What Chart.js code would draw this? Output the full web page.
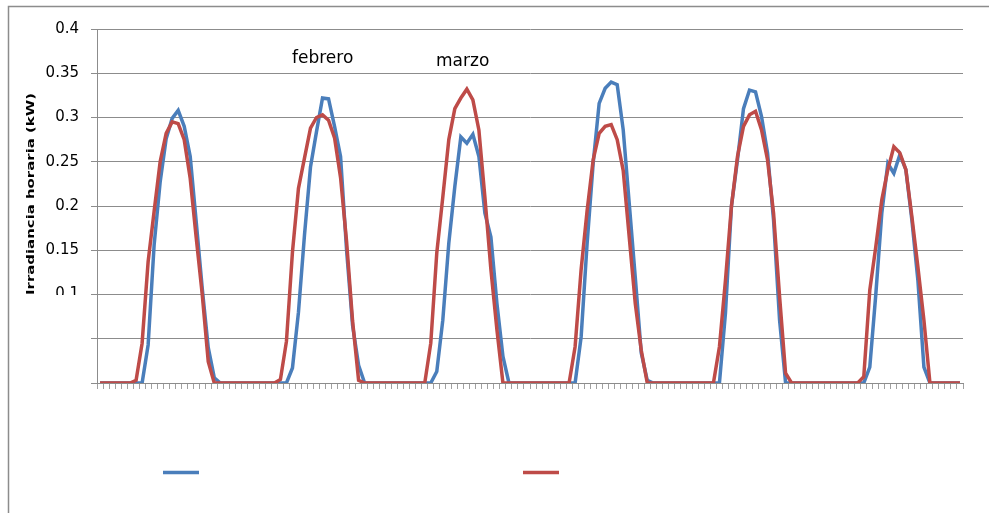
<!DOCTYPE html>
<html lang="es">
<head>
<meta charset="utf-8">
<title>Irradiancia horaria</title>
<script src="https://cdn.jsdelivr.net/npm/chart.js@4/dist/chart.umd.min.js"></script>
<style>
  html, body { margin: 0; padding: 0; background: #fff; }
  canvas { display: block; }
</style>
</head>
<body>
<canvas id="grafico" width="989" height="513"></canvas>
<script>
// un día típico por mes, 24 horas cada uno
const meses = ["enero", "febrero", "marzo", "abril", "mayo", "junio"];
const horas = Array.from({ length: 24 }, (_, h) => h);
const categorias = meses.flatMap((mes) => horas.map((h) => `${mes} ${h}h`));

// serie azul (kW)
const serieAzul = [
  0, 0, 0, 0, 0, 0, 0, 0, 0.043, 0.156, 0.227, 0.276, 0.299, 0.308, 0.29, 0.256, 0.182, 0.107, 0.04, 0.006, 0, 0, 0, 0,
  0, 0, 0, 0, 0, 0, 0, 0, 0.017, 0.08, 0.167, 0.244, 0.284, 0.322, 0.321, 0.29, 0.256, 0.15, 0.065, 0.02, 0, 0, 0, 0,
  0, 0, 0, 0, 0, 0, 0, 0, 0.013, 0.071, 0.158, 0.222, 0.278, 0.271, 0.281, 0.256, 0.192, 0.165, 0.09, 0.03, 0, 0, 0, 0,
  0, 0, 0, 0, 0, 0, 0, 0, 0.052, 0.158, 0.248, 0.316, 0.333, 0.34, 0.337, 0.286, 0.203, 0.12, 0.034, 0.003, 0, 0, 0, 0,
  0, 0, 0, 0, 0, 0, 0, 0, 0.079, 0.2, 0.252, 0.31, 0.331, 0.329, 0.301, 0.26, 0.184, 0.071, 0, 0, 0, 0, 0, 0,
  0, 0, 0, 0, 0, 0, 0, 0, 0.018, 0.1, 0.192, 0.248, 0.237, 0.258, 0.241, 0.184, 0.116, 0.018, 0, 0, 0, 0, 0, 0
];

// serie roja (kW)
const serieRoja = [
  0, 0, 0, 0, 0, 0, 0.003, 0.045, 0.137, 0.194, 0.25, 0.282, 0.295, 0.293, 0.275, 0.231, 0.164, 0.1, 0.024, 0, 0, 0, 0, 0,
  0, 0, 0, 0, 0, 0, 0.004, 0.047, 0.148, 0.22, 0.254, 0.288, 0.3, 0.303, 0.297, 0.277, 0.232, 0.16, 0.07, 0.003, 0, 0, 0, 0,
  0, 0, 0, 0, 0, 0, 0, 0.045, 0.147, 0.21, 0.275, 0.31, 0.322, 0.332, 0.32, 0.286, 0.21, 0.128, 0.06, 0, 0, 0, 0, 0,
  0, 0, 0, 0, 0, 0, 0, 0.041, 0.128, 0.195, 0.252, 0.282, 0.29, 0.292, 0.275, 0.24, 0.165, 0.09, 0.037, 0, 0, 0, 0, 0,
  0, 0, 0, 0, 0, 0, 0, 0.041, 0.116, 0.2, 0.256, 0.29, 0.303, 0.307, 0.286, 0.252, 0.192, 0.098, 0.011, 0, 0, 0, 0, 0,
  0, 0, 0, 0, 0, 0, 0, 0.007, 0.105, 0.154, 0.207, 0.241, 0.267, 0.26, 0.241, 0.188, 0.131, 0.071, 0, 0, 0, 0, 0, 0
];

const yMin = 0;
const yMax = 0.4;
const yPaso = 0.05;

const AZUL = "#4a7ebb";
const ROJO = "#be4b48";
const GRIS = "#8c8c8c";
const FUENTE = "'DejaVu Sans', sans-serif";

// marco, título del eje, rótulos de mes y leyenda sin texto
const extras = {
  id: "extras",
  afterDraw(chart) {
    const ctx = chart.ctx;
    ctx.save();

    ctx.strokeStyle = GRIS;
    ctx.lineWidth = 1.5;
    ctx.beginPath();
    ctx.moveTo(8.5, 513);
    ctx.lineTo(8.5, 6.5);
    ctx.lineTo(989, 6.5);
    ctx.stroke();

    // la etiqueta 0.1 queda tapada a medias
    ctx.fillStyle = "#fff";
    ctx.fillRect(38, 295, 50, 100);

    ctx.save();
    ctx.translate(31, 194);
    ctx.rotate(-Math.PI / 2);
    ctx.font = "bold 11px " + FUENTE;
    const titulo = "Irradiancia horaria (kW)";
    const ancho = ctx.measureText(titulo).width;
    ctx.scale(202 / ancho, 1);
    ctx.fillStyle = "#000";
    ctx.textAlign = "center";
    ctx.textBaseline = "middle";
    ctx.fillText(titulo, 0, 0);
    ctx.restore();

    ctx.fillStyle = "#000";
    ctx.font = "17px " + FUENTE;
    ctx.textAlign = "left";
    ctx.textBaseline = "alphabetic";
    ctx.fillText(meses[1], 292, 63);
    ctx.fillText(meses[2], 436, 66);

    const leyenda = [[163, 0], [523, 1]];
    ctx.lineWidth = 3.5;
    leyenda.forEach(([x, i]) => {
      ctx.strokeStyle = chart.data.datasets[i].borderColor;
      ctx.beginPath();
      ctx.moveTo(x, 472.5);
      ctx.lineTo(x + 36, 472.5);
      ctx.stroke();
    });

    ctx.restore();
  }
};

const ctx = document.getElementById("grafico").getContext("2d");
new Chart(ctx, {
  type: "line",
  data: {
    labels: categorias,
    datasets: [
      {
        label: "Azul",
        data: serieAzul,
        borderColor: AZUL,
        borderWidth: 3.5,
        pointRadius: 0,
        tension: 0,
        fill: false,
        order: 1
      },
      {
        label: "Roja",
        data: serieRoja,
        borderColor: ROJO,
        borderWidth: 3.5,
        pointRadius: 0,
        tension: 0,
        fill: false,
        order: 0
      }
    ]
  },
  options: {
    responsive: false,
    animation: false,
    layout: { padding: { top: 29, right: 26, left: 0, bottom: 0 } },
    plugins: {
      legend: { display: false },
      tooltip: { enabled: false }
    },
    scales: {
      x: {
        type: "category",
        offset: true,
        afterFit: (scale) => { scale.height = 130; },
        border: { color: GRIS, width: 1 },
        grid: {
          offset: true,
          drawOnChartArea: false,
          drawTicks: true,
          tickLength: 6,
          color: "#a0a0a0"
        },
        ticks: {
          autoSkip: false,
          maxRotation: 0,
          minRotation: 0,
          callback: () => ""
        }
      },
      y: {
        min: yMin,
        max: yMax,
        afterFit: (scale) => { scale.width = 97; },
        border: { color: GRIS, width: 1 },
        grid: {
          color: GRIS,
          lineWidth: 1,
          tickLength: 6
        },
        ticks: {
          stepSize: yPaso,
          padding: 12,
          color: "#000",
          font: { family: FUENTE, size: 15 },
          callback: (v) => (v < 0.099 ? "" : String(parseFloat(v.toFixed(2))))
        }
      }
    }
  },
  plugins: [extras]
});
</script>
</body>
</html>
